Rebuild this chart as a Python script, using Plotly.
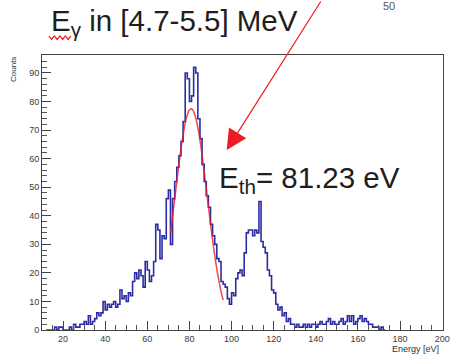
import numpy as np
import plotly.graph_objects as go

# Energy spectrum, 1 eV bins starting at 12 eV
bin_start = 12
counts = [
    0, 0, 0, 0, 1, 0, 1, 1,                 # 12-19
    0, 0, 0, 1, 0, 2, 1, 1, 2, 2,           # 20-29
    3, 2, 5, 2, 3, 4, 6, 5, 6, 10,          # 30-39
    7, 9, 8, 9, 10, 8, 9, 14, 11, 12,       # 40-49
    10, 13, 12, 17, 20, 18, 21, 19, 15, 24,  # 50-59
    21, 17, 19, 24, 37, 35, 25, 33, 32, 46,  # 60-69
    49, 30, 46, 52, 57, 61, 66, 73, 90, 88,  # 70-79
    80, 82, 92, 90, 74, 67, 58, 52, 47, 43,  # 80-89
    37, 33, 30, 25, 24, 17, 16, 15, 11, 9,   # 90-99
    13, 12, 18, 20, 21, 19, 27, 34, 35, 35,  # 100-109
    33, 35, 34, 45, 31, 29, 27, 21, 19, 14,  # 110-119
    13, 9, 7, 8, 5, 6, 3, 4, 2, 2,           # 120-129
    1, 2, 1, 1, 2, 1, 2, 1, 2, 2,            # 130-139
    1, 2, 3, 2, 2, 3, 4, 2, 3, 2,            # 140-149
    2, 3, 4, 2, 3, 5, 3, 5, 2, 3,            # 150-159
    4, 5, 3, 4, 3, 2, 2, 1, 1, 1,            # 160-169
    0, 1, 0,                                 # 170-172
]

# Gaussian fit around the main peak (E_th = 81.23 eV)
fit_energy = list(range(71, 97))
fit_counts = [33.7, 39.7, 45.8, 51.9, 57.9, 63.5, 68.4, 72.4, 75.4, 77.1, 77.5,
              76.5, 74.3, 70.9, 66.5, 61.3, 55.6, 49.5, 43.3, 37.3, 31.5, 26.2,
              21.4, 17.2, 13.5, 10.5]

x_ticks = [20, 40, 60, 80, 100, 120, 140, 160, 180, 200]
y_ticks = [0, 10, 20, 30, 40, 50, 60, 70, 80, 90]

W, H = 457, 355
L, R, T, B = 42, 7, 55, 25
PW, PH = W - L - R, H - T - B


def px(x, y):
    """Pixel position on the page -> paper coordinates."""
    return (x - L) / PW, (H - B - y) / PH


edges = np.arange(bin_start, bin_start + len(counts) + 1)
step_y = counts + [counts[-1]]

hist_col = "#2c2ca6"
red = "#ec1c24"
font = "Liberation Sans, Arial, sans-serif"

fig = go.Figure()
fig.add_trace(go.Scatter(
    x=edges, y=step_y, mode="lines", line=dict(color=hist_col, width=1.6, shape="hv"),
    hoverinfo="skip", showlegend=False))
fig.add_trace(go.Scatter(
    x=fit_energy, y=fit_counts, mode="lines", line=dict(color=red, width=1.5, shape="spline"),
    opacity=0.8, hoverinfo="skip", showlegend=False))

axis_common = dict(
    showline=True, linecolor="#444", linewidth=1, mirror=True,
    ticks="inside", ticklen=9, tickcolor="#444", tickwidth=1,
    showgrid=False, zeroline=False,
    tickfont=dict(family=font, size=9, color="#3a3a3a"),
)
fig.update_xaxes(range=[10, 200.4], tickvals=x_ticks,
                 minor=dict(ticks="inside", ticklen=5, dtick=5, tickcolor="#555", showgrid=False),
                 **axis_common)
fig.update_yaxes(range=[0, 96.3], tickvals=y_ticks,
                 minor=dict(ticks="inside", ticklen=5, dtick=2, tickcolor="#555", showgrid=False),
                 **axis_common)

ann = []
x0, y0 = px(49, 23)
ann.append(dict(text="E<sub>γ</sub> in [4.7-5.5] MeV", xref="paper", yref="paper",
                x=x0, y=y0, xanchor="left", yanchor="middle", showarrow=False,
                font=dict(family=font, size=29.5, color="#1e1e1e")))
x0, y0 = px(220, 179)
ann.append(dict(text="E<sub>th</sub>= 81.23 eV", xref="paper", yref="paper",
                x=x0, y=y0, xanchor="left", yanchor="middle", showarrow=False,
                font=dict(family=font, size=29.5, color="#1e1e1e")))
x0, y0 = px(395, 6)
ann.append(dict(text="50", xref="paper", yref="paper", x=x0, y=y0,
                xanchor="center", yanchor="middle", showarrow=False,
                font=dict(family=font, size=11, color="#555")))
x0, y0 = px(13, 55)
ann.append(dict(text="Counts", xref="paper", yref="paper", x=x0, y=y0, textangle=-90,
                xanchor="center", yanchor="top", showarrow=False,
                font=dict(family=font, size=8, color="#333")))
x0, y0 = px(448, 349)
ann.append(dict(text="Energy [eV]", xref="paper", yref="paper", x=x0, y=y0,
                xanchor="right", yanchor="middle", showarrow=False,
                font=dict(family=font, size=9, color="#333")))
# red arrow pointing to the fitted peak
ann.append(dict(text="", x=97.7, y=63, xref="x", yref="y", ax=95, ay=-158,
                showarrow=True, arrowhead=2, arrowsize=3.4, arrowwidth=1.2,
                arrowcolor=red))

# wavy underline under the title's "E"
wave = []
for i, xx in enumerate(np.arange(49, 72, 2.8)):
    yy = 36 if i % 2 == 0 else 39.5
    wx, wy = px(xx, yy)
    wave.append(("M" if i == 0 else "L") + f"{wx:.4f},{wy:.4f}")
shapes = [dict(type="path", xref="paper", yref="paper", path=" ".join(wave),
               line=dict(color=red, width=1.2))]

fig.update_layout(
    width=W, height=H, margin=dict(l=L, r=R, t=T, b=B, pad=0),
    paper_bgcolor="white", plot_bgcolor="white",
    annotations=ann, shapes=shapes,
)
fig.write_html("out.html")
